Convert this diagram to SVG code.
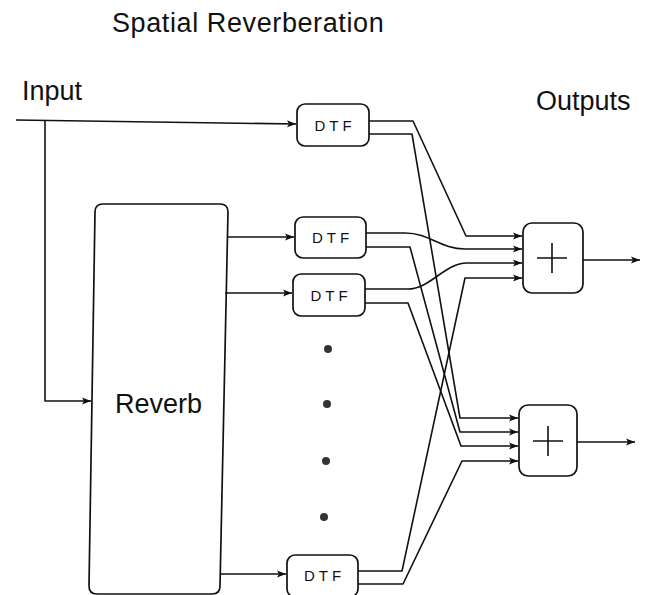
<svg xmlns="http://www.w3.org/2000/svg" width="649" height="595" viewBox="0 0 649 595">
<style>
.t{font-family:"Liberation Sans",Arial,sans-serif;fill:#111;}
.big{font-size:27px;}
.dtf{font-size:15px;letter-spacing:4px;text-anchor:middle;}
.box{fill:none;stroke:#111;stroke-width:1.7;}
.ln{fill:none;stroke:#111;stroke-width:1.6;stroke-linejoin:round;}
.arr{marker-end:url(#ah);}
</style>
<defs>
<marker id="ah" markerUnits="userSpaceOnUse" markerWidth="10" markerHeight="8" refX="9" refY="4" orient="auto">
<path d="M0,0.5 L9,4 L0,7.5 L2,4 z" fill="#111"/>
</marker>
</defs>
<rect width="649" height="595" fill="#fff"/>
<text class="t big" x="112" y="32" style="letter-spacing:0.6px">Spatial Reverberation</text>
<text class="t big" x="22" y="100">Input</text>
<text class="t big" x="536" y="110">Outputs</text>

<g id="reverb">
<path class="box" d="M103,204 H220 Q228,204 228,212 L220,586 Q220,594 212,594 H97 Q89,594 89,586 L95,212 Q95,204 103,204 z"/>
<text class="t big" x="115" y="413">Reverb</text>
</g>
<g id="dtf1">
<rect class="box" x="297" y="104" width="72" height="42" rx="8"/>
<text class="t dtf" x="335" y="131">DTF</text>
</g>
<g id="dtf2">
<rect class="box" x="295" y="217" width="71" height="41" rx="8"/>
<text class="t dtf" x="332.5" y="243">DTF</text>
</g>
<g id="dtf3">
<rect class="box" x="293" y="274" width="72" height="42" rx="8"/>
<text class="t dtf" x="331" y="301">DTF</text>
</g>
<g id="dtf4">
<rect class="box" x="287" y="555" width="71" height="42" rx="8"/>
<text class="t dtf" x="324.5" y="581">DTF</text>
</g>
<g id="dots" fill="#333">
<circle cx="328" cy="349" r="4"/>
<circle cx="327" cy="404" r="4"/>
<circle cx="326" cy="461" r="4"/>
<circle cx="324" cy="517" r="4"/>
</g>
<g id="sum1">
<rect class="box" x="523" y="223" width="60" height="70" rx="9"/>
<path class="ln" d="M537,258 H567 M552,243 V273"/>
</g>
<g id="sum2">
<rect class="box" x="519" y="405" width="58" height="71" rx="9"/>
<path class="ln" d="M533,441 H563 M548,426 V456"/>
</g>

<g id="connectors">
<path class="ln arr" d="M16,120 L296,124"/>
<path class="ln arr" d="M45,120 V401 H91"/>
<path class="ln arr" d="M228,237 H294"/>
<path class="ln arr" d="M225,293 H292"/>
<path class="ln arr" d="M220,574 H286"/>

<path class="ln arr" d="M369,121 H413 L466,236 H522"/>
<path class="ln arr" d="M369,134 H412 L460,418 H518"/>
<path class="ln arr" d="M366,233 H405 C430,233 440,249 465,249 H522"/>
<path class="ln arr" d="M366,247 H410 L460,432 H518"/>
<path class="ln arr" d="M365,289 H408 C430,289 445,263 467,263 H522"/>
<path class="ln arr" d="M365,303 H408 L461,446 H518"/>
<path class="ln arr" d="M358,571 H402 L465,278 H522"/>
<path class="ln arr" d="M358,584 H403 L462,461 H518"/>

<path class="ln arr" d="M583,260 H640"/>
<path class="ln arr" d="M577,442 H635"/>
</g>
</svg>
